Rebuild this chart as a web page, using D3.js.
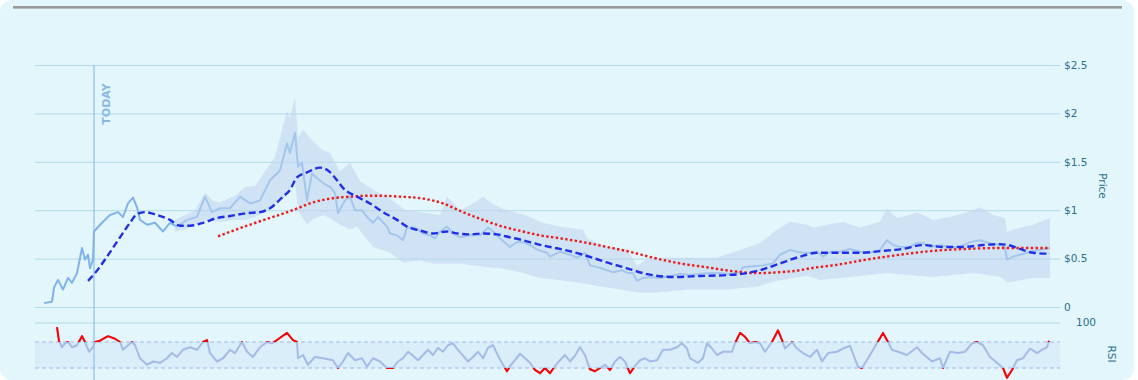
<!DOCTYPE html>
<html><head><meta charset="utf-8">
<script src="https://cdn.jsdelivr.net/npm/d3@7"></script>
<style>html,body{margin:0;padding:0;background:#fff;} svg{display:block;font-family:"DejaVu Sans",Verdana,sans-serif;}</style>
</head><body><svg id="c" width="1138" height="380"></svg>
<script>
// ---- data (t = day index, v = value) ----
const priceTicks = [0, 0.5, 1, 1.5, 2, 2.5];
const priceTickLabels = ["0", "$0.5", "$1", "$1.5", "$2", "$2.5"];
const rsiTicks = [100];
const rsiLevels = [70, 30];
const todayT = 59;

const price = [[9,0.04],[17,0.055],[19,0.2],[23,0.28],[28,0.18],[33,0.30],[37,0.25],[42,0.35],[47,0.61],[50,0.49],[53,0.54],[55,0.40],[58,0.49],[59,0.78],[67,0.87],[75,0.95],[83,0.98],[88,0.93],[93,1.07],[98,1.13],[102,1.03],[105,0.90],[112,0.85],[120,0.87],[128,0.78],[135,0.87],[142,0.83],[152,0.90],[162,0.93],[170,1.14],[177,0.98],[185,1.02],[195,1.02],[205,1.14],[215,1.07],[225,1.10],[235,1.31],[245,1.41],[252,1.69],[255,1.59],[260,1.80],[263,1.45],[267,1.49],[272,1.10],[277,1.38],[282,1.33],[288,1.28],[295,1.24],[300,1.18],[303,0.97],[310,1.10],[315,1.14],[320,1.00],[327,1.00],[332,0.93],[338,0.87],[343,0.93],[352,0.83],[355,0.76],[362,0.74],[368,0.69],[372,0.82],[380,0.82],[388,0.76],[395,0.74],[400,0.71],[405,0.78],[412,0.83],[418,0.76],[425,0.72],[435,0.74],[445,0.74],[453,0.82],[458,0.78],[465,0.71],[475,0.62],[482,0.67],[488,0.67],[495,0.64],[503,0.59],[512,0.56],[515,0.52],[525,0.57],[535,0.54],[542,0.51],[550,0.56],[555,0.43],[563,0.41],[572,0.38],[578,0.36],[587,0.38],[593,0.35],[598,0.35],[602,0.27],[608,0.30],[615,0.31],[625,0.30],[635,0.32],[645,0.34],[655,0.33],[665,0.34],[675,0.35],[685,0.35],[695,0.34],[705,0.36],[708,0.41],[718,0.42],[728,0.43],[738,0.45],[745,0.54],[755,0.59],[762,0.57],[768,0.56],[775,0.56],[782,0.57],[788,0.52],[795,0.57],[805,0.57],[815,0.60],[825,0.57],[835,0.56],[845,0.59],[852,0.69],[858,0.64],[865,0.62],[875,0.62],[882,0.66],[888,0.66],[895,0.62],[905,0.64],[915,0.62],[925,0.62],[935,0.67],[945,0.69],[955,0.66],[965,0.64],[970,0.62],[972,0.49],[978,0.52],[985,0.54],[995,0.57],[1005,0.59],[1015,0.61]];

const bandUpper = [[140,0.90],[150,0.95],[160,1.00],[170,1.18],[178,1.10],[185,1.08],[200,1.15],[210,1.24],[220,1.25],[230,1.40],[240,1.55],[252,2.03],[255,1.95],[260,2.17],[263,1.75],[268,1.83],[277,1.72],[288,1.62],[295,1.59],[305,1.40],[315,1.49],[325,1.30],[340,1.20],[355,1.12],[370,1.00],[385,0.98],[405,0.95],[412,1.14],[425,1.00],[438,1.07],[448,1.14],[460,1.05],[472,1.00],[490,0.95],[505,0.88],[525,0.83],[548,0.80],[552,0.71],[572,0.62],[592,0.59],[602,0.43],[615,0.51],[638,0.51],[662,0.51],[682,0.51],[705,0.59],[725,0.66],[742,0.80],[755,0.88],[772,0.85],[778,0.82],[792,0.85],[808,0.88],[825,0.82],[845,0.88],[852,1.02],[862,0.92],[875,0.95],[882,0.98],[898,0.90],[915,0.93],[932,0.98],[945,1.03],[958,0.95],[970,0.92],[972,0.78],[985,0.82],[998,0.85],[1015,0.92]];

const bandLower = [[140,0.78],[150,0.80],[160,0.85],[170,0.90],[185,0.88],[200,0.90],[210,0.90],[220,0.93],[230,0.98],[240,1.05],[252,1.15],[255,1.20],[260,1.30],[263,1.00],[272,0.85],[277,0.90],[288,0.95],[295,0.92],[305,0.85],[315,0.80],[322,0.83],[338,0.62],[355,0.56],[368,0.46],[385,0.48],[398,0.45],[425,0.45],[445,0.42],[465,0.40],[485,0.36],[505,0.30],[525,0.28],[555,0.23],[602,0.15],[622,0.15],[655,0.18],[692,0.18],[722,0.21],[738,0.26],[758,0.30],[772,0.32],[785,0.28],[815,0.31],[852,0.35],[898,0.31],[938,0.35],[965,0.31],[973,0.25],[998,0.30],[1015,0.30]];

const maShort = [[53,0.27],[60,0.35],[72,0.52],[85,0.72],[95,0.87],[102,0.96],[110,0.98],[122,0.95],[135,0.90],[145,0.84],[155,0.84],[168,0.87],[182,0.92],[195,0.94],[212,0.97],[225,0.98],[235,1.02],[248,1.14],[255,1.21],[262,1.34],[272,1.39],[285,1.44],[293,1.41],[302,1.31],[308,1.23],[322,1.14],[335,1.07],[348,0.98],[362,0.90],[372,0.83],[385,0.79],[398,0.76],[412,0.78],[422,0.76],[435,0.75],[448,0.76],[462,0.75],[475,0.72],[488,0.69],[502,0.65],[515,0.62],[525,0.60],[548,0.54],[572,0.46],[592,0.40],[612,0.34],[638,0.31],[665,0.32],[692,0.33],[705,0.34],[725,0.38],[745,0.45],[765,0.52],[782,0.56],[805,0.56],[825,0.56],[848,0.58],[868,0.60],[888,0.64],[908,0.62],[928,0.62],[948,0.64],[965,0.65],[973,0.64],[985,0.60],[998,0.56],[1015,0.55]];

const maLong = [[183,0.73],[212,0.84],[238,0.93],[255,0.99],[265,1.03],[275,1.07],[295,1.12],[315,1.14],[338,1.15],[365,1.14],[388,1.12],[408,1.07],[428,0.98],[448,0.90],[468,0.83],[488,0.78],[505,0.74],[525,0.71],[548,0.67],[572,0.62],[595,0.57],[618,0.51],[645,0.45],[672,0.41],[698,0.37],[722,0.35],[745,0.36],[765,0.38],[775,0.40],[798,0.43],[832,0.49],[865,0.54],[898,0.58],[932,0.60],[965,0.61],[1015,0.61]];

const rsi = [[22,93],[24,71.5],[27,62],[30,68],[33,70],[37,62],[42,65],[47,79],[50,70],[54,55],[58,62],[60,70],[65,72],[73,79],[80,75],[85,70],[88,58],[93,65],[97,70],[100,65],[105,45],[112,35],[118,40],[125,38],[132,45],[137,53],[142,47],[148,58],[155,62],[162,58],[168,70],[172,73],[175,53],[182,40],[188,45],[195,58],[200,53],[207,70],[212,55],[218,47],[225,62],[232,70],[237,68],[242,73],[252,84],[258,73],[262,70],[263,45],[268,50],[273,35],[280,47],[288,45],[298,42],[303,30],[308,40],[313,53],[320,42],[327,45],[332,32],[338,45],[345,40],[352,30],[358,30],[363,40],[368,45],[373,55],[378,49],[383,42],[388,50],[393,58],[398,50],[403,61],[408,55],[413,65],[418,68],[423,58],[428,49],[433,40],[438,47],[443,55],[448,45],[453,61],[458,65],[463,49],[468,35],[472,25],[476,35],[480,42],[485,52],[490,45],[495,38],[500,27],[505,22],[510,30],[515,22],[520,33],[525,42],[530,50],[535,40],[540,49],[545,62],[550,50],[555,28],[560,25],[565,30],[570,35],[575,27],[580,40],[585,47],[590,40],[595,22],[600,33],[605,42],[610,45],[615,40],[622,42],[628,58],[635,58],[642,62],[647,68],[652,60],[655,45],[663,38],[668,45],[672,68],[677,60],[682,50],[688,55],[697,55],[700,68],[705,84],[710,78],[715,68],[720,70],[725,68],[730,55],[737,70],[743,88],[747,73],[750,60],[757,70],[762,60],[768,53],[775,47],[782,58],[787,40],[793,53],[802,55],[808,60],[815,64],[823,32],[827,30],[835,50],[842,68],[848,84],[853,70],[857,58],[863,55],[872,50],[882,62],[887,53],[897,40],[905,45],[908,30],[915,55],[923,53],[930,55],[937,68],[942,70],[948,65],[955,47],[962,38],[968,30],[972,15],[977,27],[982,42],[988,45],[995,60],[1002,53],[1007,58],[1012,62],[1014,72]];

// ---- layout ----
const svg = d3.select("#c");
const L = 35, R = 1060;
const x = d3.scaleLinear().domain([0, 1025]).range([L, R]);
const y = d3.scaleLinear().domain([0, 2.5]).range([307, 65]);
const yr = d3.scaleLinear().domain([0, 100]).range([387.5, 322.5]);
const textColor = "#2a6f8d";

// card
svg.append("rect").attr("x", 0).attr("y", 0).attr("width", 1134).attr("height", 380).attr("rx", 12).attr("fill", "#e3f6fc");
svg.append("rect").attr("x", 13).attr("y", 6).attr("width", 1109).attr("height", 2.6).attr("fill", "#9a9a9a");

// RSI band
svg.append("rect").attr("x", L).attr("width", R - L)
  .attr("y", yr(70)).attr("height", yr(30) - yr(70)).attr("fill", "#d9eef8");

// grid lines (price)
const gridAxis = d3.axisLeft(y).tickValues(priceTicks).tickSize(-(R - L)).tickFormat("");
const g1 = svg.append("g").attr("transform", `translate(${L},0)`).call(gridAxis);
g1.select(".domain").remove();
g1.selectAll("line").attr("stroke", "#b0dbe8").attr("stroke-width", 1);

// grid line RSI 100
const gridR = d3.axisLeft(yr).tickValues(rsiTicks).tickSize(-(R - L)).tickFormat("");
const g2 = svg.append("g").attr("transform", `translate(${L},0)`).call(gridR);
g2.select(".domain").remove();
g2.selectAll("line").attr("stroke", "#b0dbe8").attr("stroke-width", 1);

// RSI 70/30 dashed
svg.selectAll(".lvl").data(rsiLevels).join("line")
  .attr("x1", L).attr("x2", R).attr("y1", d => yr(d)).attr("y2", d => yr(d))
  .attr("stroke", "#9fb9ea").attr("stroke-width", 1).attr("stroke-dasharray", "4,3");

// price axis labels
const ax = d3.axisRight(y).tickValues(priceTicks).tickSize(0).tickPadding(4)
  .tickFormat((d, i) => priceTickLabels[i]);
const ga = svg.append("g").attr("transform", `translate(${R},0)`).call(ax);
ga.select(".domain").remove();
ga.selectAll("text").attr("fill", textColor).attr("font-size", "10.5px")
  .attr("font-family", "'DejaVu Sans',Verdana,sans-serif");

const axr = d3.axisRight(yr).tickValues(rsiTicks).tickSize(0).tickPadding(16);
const gar = svg.append("g").attr("transform", `translate(${R},0)`).call(axr);
gar.select(".domain").remove();
gar.selectAll("text").attr("fill", textColor).attr("font-size", "10.5px")
  .attr("font-family", "'DejaVu Sans',Verdana,sans-serif");

// axis titles
svg.append("text").attr("transform", "translate(1099,186) rotate(90)")
  .attr("text-anchor", "middle").attr("fill", textColor).attr("font-size", "10.5px").text("Price");
svg.append("text").attr("transform", "translate(1108,354) rotate(90)")
  .attr("text-anchor", "middle").attr("fill", textColor).attr("font-size", "10.5px").text("RSI");

// today line
svg.append("line").attr("x1", x(todayT)).attr("x2", x(todayT)).attr("y1", y(2.5)).attr("y2", 380)
  .attr("stroke", "#7db6ee").attr("stroke-width", 1);
svg.append("text").attr("transform", `translate(${x(todayT) + 16},104) rotate(-90)`)
  .attr("text-anchor", "middle").attr("fill", "#8ab8e6").attr("font-size", "11px")
  .attr("font-weight", "bold").text("TODAY");

// price line
const line = d3.line().x(d => x(d[0])).y(d => y(d[1]));
svg.append("path").datum(price).attr("d", line).attr("fill", "none")
  .attr("stroke", "#7fb3ea").attr("stroke-width", 2).attr("stroke-linejoin", "round");

// band (drawn over price line)
const upperFn = d3.scaleLinear().domain(bandUpper.map(d => d[0])).range(bandUpper.map(d => d[1]));
const lowerFn = d3.scaleLinear().domain(bandLower.map(d => d[0])).range(bandLower.map(d => d[1]));
const ts = Array.from(new Set(bandUpper.map(d => d[0]).concat(bandLower.map(d => d[0])))).sort((a, b) => a - b);
const area = d3.area().x(d => x(d)).y0(d => y(lowerFn(d))).y1(d => y(upperFn(d)));
svg.append("path").datum(ts).attr("d", area).attr("fill", "rgb(192,213,239)").attr("fill-opacity", 0.56);

// moving averages
const smooth = d3.line().x(d => x(d[0])).y(d => y(d[1])).curve(d3.curveMonotoneX);
svg.append("path").datum(maLong).attr("d", smooth).attr("fill", "none")
  .attr("stroke", "#f01818").attr("stroke-width", 2.4).attr("stroke-dasharray", "2.4,2.4");
svg.append("path").datum(maShort).attr("d", smooth).attr("fill", "none")
  .attr("stroke", "#1f2fe8").attr("stroke-width", 2.4).attr("stroke-dasharray", "7,3.5");

// RSI
const rline = d3.line().x(d => x(d[0])).y(d => yr(d[1]));
const defs = svg.append("defs");
defs.append("clipPath").attr("id", "hi").append("rect").attr("x", 0).attr("width", 1138).attr("y", 0).attr("height", yr(70));
defs.append("clipPath").attr("id", "lo").append("rect").attr("x", 0).attr("width", 1138).attr("y", yr(30)).attr("height", 100);
svg.append("path").datum(rsi).attr("d", rline).attr("fill", "none")
  .attr("stroke", "#a3bbe6").attr("stroke-width", 2).attr("stroke-linejoin", "round");
["hi", "lo"].forEach(id => {
  svg.append("path").datum(rsi).attr("d", rline).attr("fill", "none")
    .attr("clip-path", `url(#${id})`)
    .attr("stroke", "#ff0000").attr("stroke-width", 2).attr("stroke-linejoin", "round");
});
</script></body></html>
